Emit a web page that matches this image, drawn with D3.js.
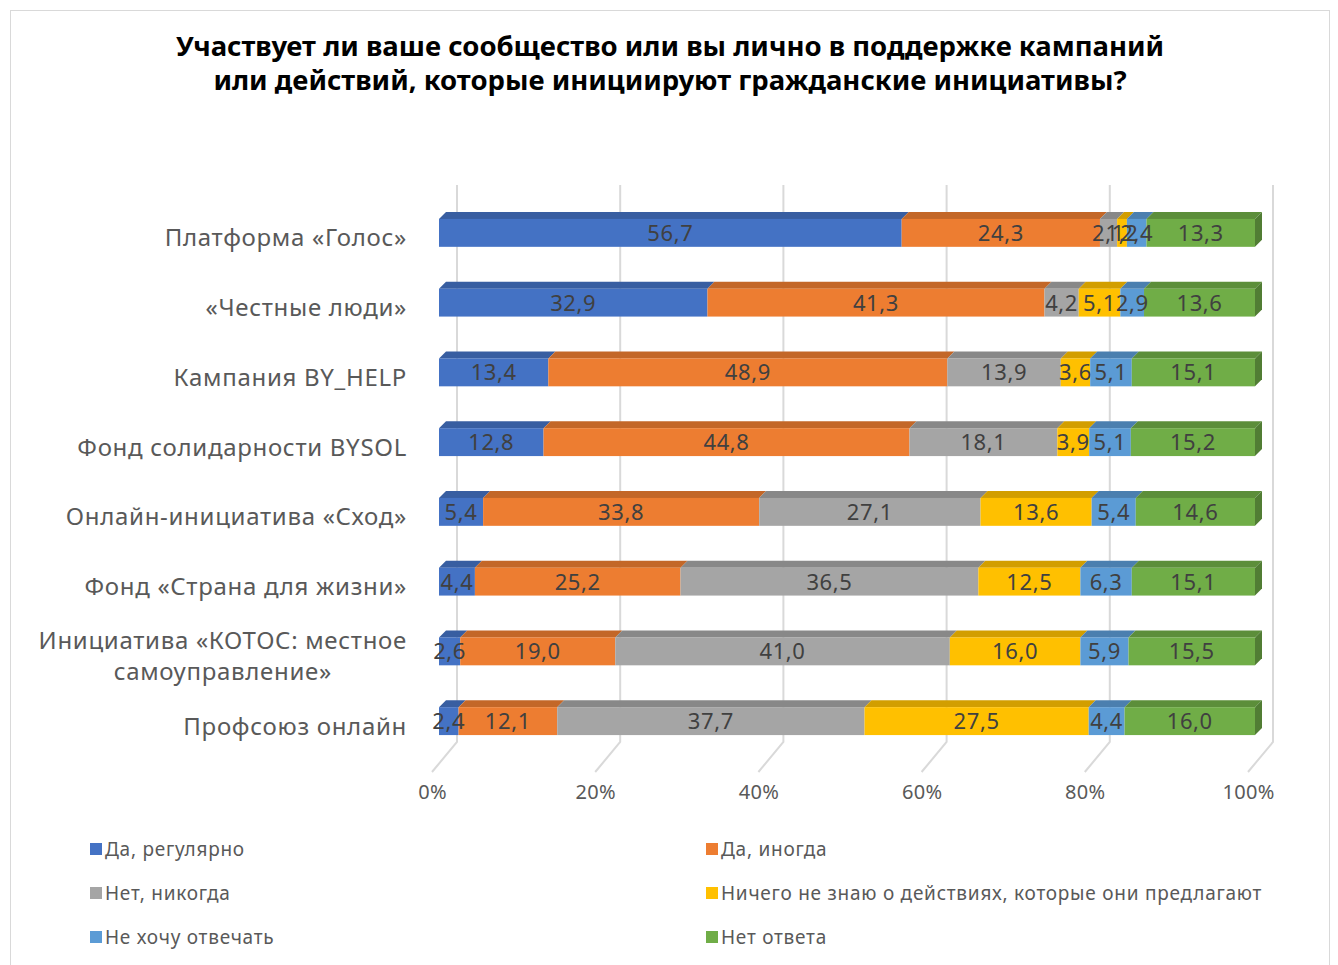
<!DOCTYPE html>
<html>
<head>
<meta charset="utf-8">
<script src="https://cdn.jsdelivr.net/npm/d3@7"></script>
<style>
  body { margin: 0; background: #fff; }
  svg text { font-family: "Noto Sans", sans-serif; }
</style>
</head>
<body>
<svg id="chart" width="1338" height="965"></svg>
<script>
var categories = [
  ["Платформа «Голос»"],
  ["«Честные люди»"],
  ["Кампания BY_HELP"],
  ["Фонд солидарности BYSOL"],
  ["Онлайн-инициатива «Сход»"],
  ["Фонд «Страна для жизни»"],
  ["Инициатива «КОТОС: местное", "самоуправление»"],
  ["Профсоюз онлайн"]
]
var seriesNames = ["Да, регулярно", "Да, иногда", "Нет, никогда",
  "Ничего не знаю о действиях, которые они предлагают", "Не хочу отвечать", "Нет ответа"]
var regular   = [56.7, 32.9, 13.4, 12.8, 5.4, 4.4, 2.6, 2.4]
var sometimes = [24.3, 41.3, 48.9, 44.8, 33.8, 25.2, 19.0, 12.1]
var never     = [2.1, 4.2, 13.9, 18.1, 27.1, 36.5, 41.0, 37.7]
var dontKnow  = [1.2, 5.1, 3.6, 3.9, 13.6, 12.5, 16.0, 27.5]
var noWish    = [2.4, 2.9, 5.1, 5.1, 5.4, 6.3, 5.9, 4.4]
var noAnswer  = [13.3, 13.6, 15.1, 15.2, 14.6, 15.1, 15.5, 16.0]
var tickValues = [0, 0.2, 0.4, 0.6, 0.8, 1]

var colors = ["#4472C4", "#ED7D31", "#A5A5A5", "#FFC000", "#5B9BD5", "#70AD47"]
var seriesVals = [regular, sometimes, never, dontKnow, noWish, noAnswer]
var keys = d3.range(seriesNames.length)

var data = categories.map(function (c, i) {
  var row = { label: c.join(" "), lines: c }
  keys.forEach(function (k) { row[k] = seriesVals[k][i] })
  return row
})

var svg = d3.select("#chart")

// chart border
svg.append("rect")
  .attr("x", 10.5).attr("y", 10.5)
  .attr("width", 1319).attr("height", 960)
  .attr("fill", "none").attr("stroke", "#d9d9d9")

// title
svg.append("text")
  .attr("x", 670).attr("text-anchor", "middle")
  .attr("font-weight", "bold").attr("font-size", 27.5).attr("fill", "#000")
  .selectAll("tspan")
  .data(["Участвует ли ваше сообщество или вы лично в поддержке кампаний",
         "или действий, которые инициируют гражданские инициативы?"])
  .enter().append("tspan")
  .attr("x", 670)
  .attr("y", function (d, i) { return 56 + i * 34 })
  .text(d => d)

var x = d3.scaleLinear().domain([0, 1]).range([439, 1255])
var y = d3.scaleBand()
  .domain(data.map(d => d.label))
  .range([198, 756])
  .paddingInner(0.6).paddingOuter(0.3)

// 3D offsets
var wallDx = 18, wallTop = 185, wallBottom = 742
var floorDx = -7, floorDy = 30
var depthX = 7, depthY = -7

// gridlines on back wall + floor
var grid = svg.append("g").attr("class", "grid")
grid.selectAll("path")
  .data(tickValues)
  .enter().append("path")
  .attr("d", function (d) {
    var xb = x(d) + wallDx
    return "M" + xb + "," + wallTop + "V" + wallBottom +
      "L" + (x(d) + floorDx) + "," + (wallBottom + floorDy)
  })
  .attr("fill", "none").attr("stroke", "#d9d9d9").attr("stroke-width", 2)

// x tick labels
var xAxis = d3.axisBottom(x).tickValues(tickValues).tickFormat(d3.format(".0%")).tickSize(0)
var axG = svg.append("g")
  .attr("transform", "translate(" + floorDx + "," + (wallBottom + floorDy + 10) + ")")
  .call(xAxis)
axG.select(".domain").remove()
axG.selectAll("text")
  .attr("font-size", 20).attr("fill", "#595959")
  .attr("letter-spacing", 0.3)
  .style("font-family", "\"Noto Sans\", sans-serif")

var stack = d3.stack().keys(keys).offset(d3.stackOffsetExpand)
var layers = stack(data)

var h = y.bandwidth()

var layerG = svg.selectAll("g.layer")
  .data(layers)
  .enter().append("g")
  .attr("class", "layer")

// top faces
layerG.selectAll("path.top")
  .data(function (d) { return d.map(function (e) { e.key = d.key; return e }) })
  .enter().append("path")
  .attr("class", "top")
  .attr("d", function (d) {
    var x0 = x(d[0]), x1 = x(d[1]), yt = y(d.data.label)
    return "M" + x0 + "," + yt + "L" + (x0 + depthX) + "," + (yt + depthY) +
      "L" + (x1 + depthX) + "," + (yt + depthY) + "L" + x1 + "," + yt + "Z"
  })
  .attr("fill", d => d3.color(colors[d.key]).darker(0.55))

// front faces
layerG.selectAll("rect.front")
  .data(d => d)
  .enter().append("rect")
  .attr("class", "front")
  .attr("x", d => x(d[0]))
  .attr("y", d => y(d.data.label))
  .attr("width", d => x(d[1]) - x(d[0]))
  .attr("height", h)
  .attr("fill", d => colors[d.key])

// right side of the last series
var last = layers[layers.length - 1]
svg.append("g").selectAll("path")
  .data(last)
  .enter().append("path")
  .attr("d", function (d) {
    var x1 = x(d[1]), yt = y(d.data.label)
    return "M" + x1 + "," + yt + "L" + (x1 + depthX) + "," + (yt + depthY) +
      "L" + (x1 + depthX) + "," + (yt + depthY + h) + "L" + x1 + "," + (yt + h) + "Z"
  })
  .attr("fill", d3.color(colors[5]).darker(0.9))

// value labels
var fmt = function (v) { return v.toFixed(1).replace(".", ",") }
layers.forEach(function (layer) {
  svg.append("g").selectAll("text")
    .data(layer)
    .enter().append("text")
    .attr("x", d => (x(d[0]) + x(d[1])) / 2)
    .attr("y", d => y(d.data.label) + h / 2)
    .attr("dy", "0.36em")
    .attr("text-anchor", "middle")
    .attr("font-size", 22).attr("letter-spacing", 0.6).attr("fill", "#404040")
    .text(d => fmt(d.data[layer.key]))
})

// category labels
var catG = svg.append("g")
catG.selectAll("text")
  .data(data)
  .enter().append("text")
  .attr("font-size", 24).attr("letter-spacing", 0.7).attr("fill", "#595959")
  .each(function (d) {
    var t = d3.select(this)
    var cy = y(d.label) + h / 2 + 5
    var n = d.lines.length
    if (n === 1) {
      t.attr("text-anchor", "end").attr("x", 407).attr("y", cy).attr("dy", "0.35em").text(d.lines[0])
      return
    }
    // multi-line: lines centred under the widest one, right edge at 407
    var spans = d.lines.map(function (ln, i) {
      return t.append("tspan")
        .attr("y", cy + (i - (n - 1) / 2) * 31)
        .attr("dy", "0.35em")
        .text(ln)
    })
    var wmax = d3.max(spans, s => s.node().getComputedTextLength())
    t.attr("text-anchor", "middle")
    spans.forEach(s => s.attr("x", 407 - wmax / 2))
  })

// legend
var legend = svg.append("g").attr("class", "legend")
var legItems = legend.selectAll("g")
  .data(seriesNames)
  .enter().append("g")
  .attr("transform", function (d, i) {
    var col = i % 2, row = Math.floor(i / 2)
    return "translate(" + (col === 0 ? 90 : 706) + "," + (849 + row * 44) + ")"
  })
legItems.append("rect")
  .attr("x", 0).attr("y", -6)
  .attr("width", 12).attr("height", 12)
  .attr("fill", (d, i) => colors[i])
legItems.append("text")
  .attr("x", 15).attr("dy", "0.35em")
  .attr("font-size", 19).attr("letter-spacing", 0.75).attr("fill", "#595959")
  .text(d => d)
</script>
</body>
</html>
